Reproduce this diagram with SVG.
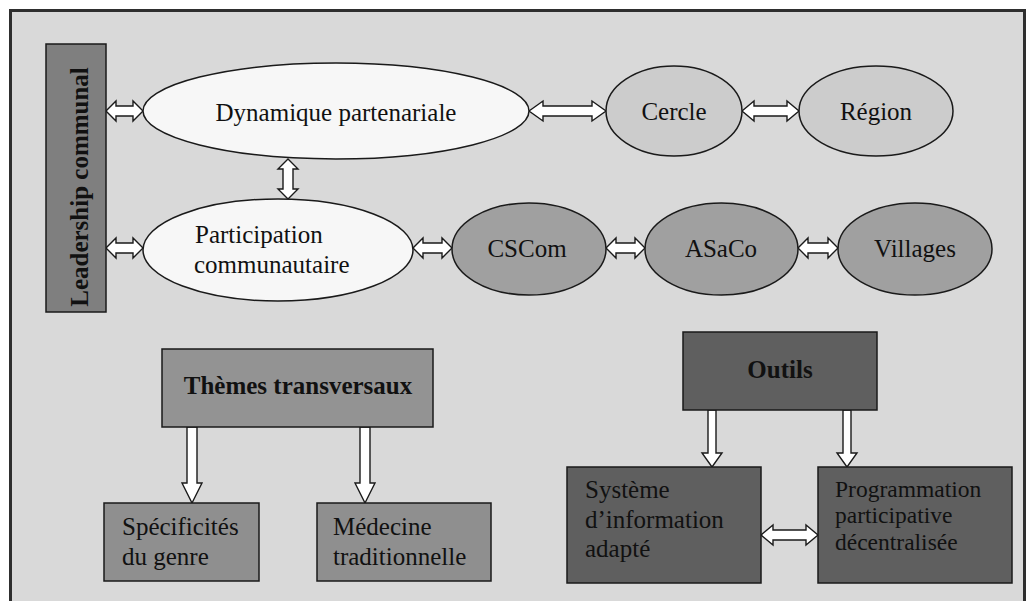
<svg xmlns="http://www.w3.org/2000/svg" width="1027" height="601" viewBox="0 0 1027 601">
<style>
.t{font-family:"Liberation Serif","Times New Roman",serif;font-size:25px;fill:#111}
.b{font-weight:bold}
.m{text-anchor:middle}
.s{font-size:23.5px}
.sh{stroke:#1a1a1a;stroke-width:1.5}
.ar{fill:#fff;stroke:#1a1a1a;stroke-width:1.4;stroke-linejoin:miter}
</style>
<rect x="0" y="0" width="1027" height="601" fill="#ffffff"/>
<rect x="10.5" y="10.5" width="1014" height="640" fill="#d9d9d9" stroke="#2e2e2e" stroke-width="3"/>

<g id="connectors">
  <!-- horizontal double arrows -->
  <polygon class="ar" points="106,111 116,101 116,106 133,106 133,101 143,111 133,121 133,116 116,116 116,121"/>
  <polygon class="ar" points="529,111 543,101 543,106 592,106 592,101 606,111 592,121 592,116 543,116 543,121"/>
  <polygon class="ar" points="742,111 754,101 754,106 787,106 787,101 799,111 787,121 787,116 754,116 754,121"/>
  <polygon class="ar" points="106,248 116,238 116,243 133,243 133,238 143,248 133,258 133,253 116,253 116,258"/>
  <polygon class="ar" points="413,248 423,238 423,243 442,243 442,238 452,248 442,258 442,253 423,253 423,258"/>
  <polygon class="ar" points="606,248 616,238 616,243 635,243 635,238 645,248 635,258 635,253 616,253 616,258"/>
  <polygon class="ar" points="798,248 808,238 808,243 828,243 828,238 838,248 828,258 828,253 808,253 808,258"/>
  <polygon class="ar" points="761,535 773,525 773,530 806,530 806,525 818,535 806,545 806,540 773,540 773,545"/>
  <!-- vertical double arrow -->
  <polygon class="ar" points="288,159 298,169 293,169 293,189 298,189 288,199 278,189 283,189 283,169 278,169"/>
  <!-- down arrows -->
  <polygon class="ar" points="187,427 197,427 197,483 202,483 192,503 182,483 187,483"/>
  <polygon class="ar" points="360,427 370,427 370,483 375,483 365,503 355,483 360,483"/>
  <polygon class="ar" points="708,410 716,410 716,453 722,453 712,467 702,453 708,453"/>
  <polygon class="ar" points="843,410 851,410 851,453 857,453 847,467 837,453 843,453"/>
</g>

<g id="leadership">
  <rect class="sh" x="46" y="44" width="60" height="268" fill="#7f7f7f"/>
  <text class="t b m" transform="translate(88,187) rotate(-90)">Leadership communal</text>
</g>

<g id="dynamique">
  <ellipse class="sh" cx="336" cy="111" rx="193" ry="48" fill="#f7f7f7"/>
  <text class="t m" x="336" y="121">Dynamique partenariale</text>
</g>
<g id="cercle">
  <ellipse class="sh" cx="674" cy="111" rx="68" ry="45" fill="#cccccc"/>
  <text class="t m" x="674" y="120">Cercle</text>
</g>
<g id="region">
  <ellipse class="sh" cx="876" cy="111" rx="77" ry="45" fill="#cccccc"/>
  <text class="t m" x="876" y="120">Région</text>
</g>

<g id="participation">
  <ellipse class="sh" cx="278" cy="250" rx="135" ry="51" fill="#f7f7f7"/>
  <text class="t" x="195" y="243">Participation</text>
  <text class="t" x="194" y="273">communautaire</text>
</g>
<g id="cscom">
  <ellipse class="sh" cx="529" cy="249" rx="77" ry="46" fill="#a0a0a0"/>
  <text class="t m" x="527" y="257">CSCom</text>
</g>
<g id="asaco">
  <ellipse class="sh" cx="721.5" cy="249" rx="76.5" ry="46" fill="#a0a0a0"/>
  <text class="t m" x="721" y="257">ASaCo</text>
</g>
<g id="villages">
  <ellipse class="sh" cx="915" cy="249" rx="77" ry="46" fill="#a0a0a0"/>
  <text class="t m" x="915" y="257">Villages</text>
</g>

<g id="themes">
  <rect class="sh" x="162" y="349" width="271" height="78" fill="#939393"/>
  <text class="t b m" x="298" y="394">Thèmes transversaux</text>
</g>
<g id="specificites">
  <rect class="sh" x="104" y="503" width="155" height="78" fill="#8f8f8f"/>
  <text class="t" x="122" y="535">Spécificités</text>
  <text class="t" x="122" y="565">du genre</text>
</g>
<g id="medecine">
  <rect class="sh" x="317" y="503" width="174" height="78" fill="#8f8f8f"/>
  <text class="t" x="333" y="535">Médecine</text>
  <text class="t" x="333" y="565">traditionnelle</text>
</g>

<g id="outils">
  <rect class="sh" x="683" y="332" width="194" height="78" fill="#5f5f5f"/>
  <text class="t b m" x="780" y="378">Outils</text>
</g>
<g id="systeme">
  <rect class="sh" x="567" y="467" width="194" height="116" fill="#5f5f5f"/>
  <text class="t" x="585" y="498">Système</text>
  <text class="t" x="585" y="528">d’information</text>
  <text class="t" x="585" y="557">adapté</text>
</g>
<g id="programmation">
  <rect class="sh" x="818" y="467" width="194" height="116" fill="#5f5f5f"/>
  <text class="t s" x="835" y="497">Programmation</text>
  <text class="t s" x="835" y="523">participative</text>
  <text class="t s" x="835" y="550">décentralisée</text>
</g>
</svg>
